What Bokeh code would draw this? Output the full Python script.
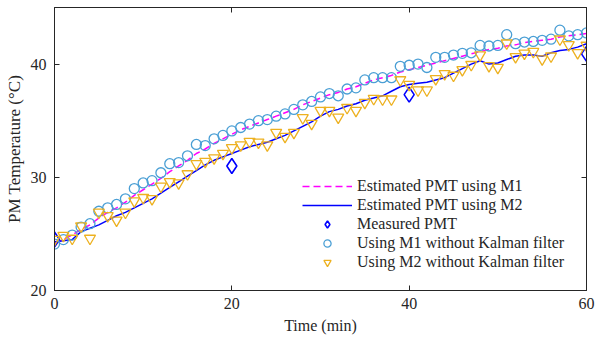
from bokeh.plotting import figure
from bokeh.models import LinearAxis, FixedTicker, Legend, LegendItem, Range1d
from bokeh.embed import file_html
from bokeh.resources import INLINE

t = list(range(0, 61))

est_m1 = [24.2, 24.5, 24.9, 25.4, 25.8, 26.4, 26.9, 27.3, 27.8, 28.4, 28.9,
          29.4, 29.9, 30.5, 31.0, 31.5, 32.1, 32.5, 33.0, 33.4, 33.8,
          34.2, 34.5, 34.8, 35.1, 35.4, 35.7, 36.0, 36.4, 36.7, 37.0,
          37.3, 37.5, 37.8, 38.0, 38.3, 38.6, 38.8, 39.0, 39.3, 39.5,
          39.7, 39.9, 40.1, 40.3, 40.5, 40.7, 40.9, 41.1, 41.3, 41.4,
          41.6, 41.7, 41.9, 42.0, 42.1, 42.2, 42.4, 42.5, 42.6, 42.7]

est_m2 = [24.3, 24.4, 24.5, 25.2, 25.5, 25.8, 26.2, 26.6, 26.9, 27.3, 27.7,
          28.1, 28.6, 29.1, 29.6, 30.1, 30.6, 31.1, 31.5, 31.8, 32.1,
          32.4, 32.7, 32.9, 33.1, 33.4, 33.7, 34.1, 34.5, 34.9, 35.4,
          35.8, 36.0, 36.3, 36.5, 36.8, 37.0, 37.2, 37.6, 38.0, 38.2,
          38.3, 38.4, 38.6, 38.8, 39.2, 39.6, 40.0, 40.3, 40.0, 40.1,
          40.4, 40.7, 40.8, 40.8, 40.7, 41.0, 41.2, 41.3, 41.5, 41.8]

meas_t = [0, 20, 40, 60]
meas = [24.5, 31.0, 37.3, 40.9]

m1_nokf = [24.1, 24.5, 24.9, 25.6, 25.9, 27.0, 27.3, 27.6, 28.1, 29.0, 29.5,
           29.7, 30.4, 31.2, 31.3, 31.9, 32.9, 32.8, 33.4, 33.7, 34.1,
           34.4, 34.7, 35.0, 35.1, 35.4, 35.6, 36.0, 36.4, 36.7, 37.1,
           37.4, 37.2, 37.8, 37.9, 38.6, 38.8, 38.8, 38.8, 39.8, 39.9,
           40.0, 39.7, 40.6, 40.6, 40.8, 40.95, 41.0, 41.65, 41.6, 41.65,
           42.6, 41.8, 41.95, 42.0, 42.1, 42.2, 43.0, 42.5, 42.6, 42.75]

m2_nokf = [24.5, 24.85, 24.6, 25.7, 24.6, 26.9, 26.6, 26.2, 26.9, 27.9, 28.2,
           28.1, 29.2, 29.6, 29.5, 30.3, 31.2, 31.4, 31.7, 32.1, 32.6,
           32.85, 33.15, 33.1, 32.85, 33.95, 33.6, 33.95, 35.25, 34.75, 35.9,
           35.9, 35.3, 36.15, 35.9, 36.6, 36.95, 36.9, 36.9, 38.6, 38.2,
           37.7, 37.7, 38.7, 39.15, 39.0, 39.5, 39.95, 40.8, 39.85, 39.7,
           41.85, 40.65, 40.95, 41.1, 40.45, 40.7, 42.2, 41.7, 41.0, 41.65]

x_ticks = [0, 20, 40, 60]
y_ticks = [20, 30, 40]

FONT = "Liberation Serif"
TXT = "#262626"

p = figure(width=600, height=337, output_backend="svg", toolbar_location=None,
           x_range=Range1d(0, 60), y_range=Range1d(20, 45),
           min_border_left=54, min_border_right=14, min_border_top=7,
           min_border_bottom=47)
p.xgrid.visible = False
p.ygrid.visible = False
p.outline_line_color = TXT
p.outline_line_width = 1
p.background_fill_color = "white"
p.border_fill_color = "white"

r1 = p.line(t, est_m1, line_color="#FF00FF", line_width=1.5, line_dash="7 4")
r2 = p.line(t, est_m2, line_color="#0000FF", line_width=1.5)
r3 = p.scatter(meas_t, meas, marker="diamond", size=15, fill_color=None,
               line_color="#0000FF", line_width=1.6)
r4 = p.scatter(t, m1_nokf, marker="circle", size=10, fill_color=None,
               line_color="#4A9FD5", line_width=1.3)
r5 = p.scatter(t, m2_nokf, marker="inverted_triangle", size=11, fill_color=None,
               line_color="#EDB120", line_width=1.3)

for ax in p.xaxis:
    ax.ticker = FixedTicker(ticks=x_ticks)
for ax in p.yaxis:
    ax.ticker = FixedTicker(ticks=y_ticks)

for ax in list(p.xaxis) + list(p.yaxis):
    ax.major_tick_in = 5
    ax.major_tick_out = 0
    ax.minor_tick_line_color = None
    ax.major_tick_line_color = TXT
    ax.axis_line_color = TXT
    ax.major_label_text_font = FONT
    ax.major_label_text_font_size = "16px"
    ax.major_label_text_color = TXT
    ax.axis_label_text_font = FONT
    ax.axis_label_text_font_size = "16px"
    ax.axis_label_text_font_style = "normal"
    ax.axis_label_text_color = TXT

p.xaxis.axis_label = "Time (min)"
p.yaxis.axis_label = "PM Temperature (°C)"
p.yaxis.axis_label_text_font_size = "17px"
p.xaxis.major_label_standoff = 7
p.yaxis.major_label_standoff = 8
p.xaxis.axis_label_standoff = 5
p.yaxis.axis_label_standoff = 4

top = LinearAxis(ticker=FixedTicker(ticks=x_ticks), major_tick_in=5, major_tick_out=0,
                 minor_tick_line_color=None,
                 major_label_overrides={v: "" for v in x_ticks},
                 major_tick_line_color=TXT, axis_line_color=TXT, major_label_standoff=0)
right = LinearAxis(ticker=FixedTicker(ticks=y_ticks), major_tick_in=5, major_tick_out=0,
                   minor_tick_line_color=None,
                   major_label_overrides={v: "" for v in y_ticks},
                   major_tick_line_color=TXT, axis_line_color=TXT, major_label_standoff=0)
p.add_layout(top, "above")
p.add_layout(right, "right")

legend = Legend(items=[
    LegendItem(label="Estimated PMT using M1", renderers=[r1]),
    LegendItem(label="Estimated PMT using M2", renderers=[r2]),
    LegendItem(label="Measured PMT", renderers=[r3]),
    LegendItem(label="Using M1 without Kalman filter", renderers=[r4]),
    LegendItem(label="Using M2 without Kalman filter", renderers=[r5]),
], location=(248, 19), glyph_width=50, glyph_height=18, spacing=1,
   padding=0, margin=0, label_standoff=5,
   label_text_font=FONT, label_text_font_size="16px", label_text_color=TXT,
   background_fill_alpha=0, border_line_alpha=0, label_height=18)
p.add_layout(legend, "center")

open("out.html", "w").write(file_html(p, INLINE))
